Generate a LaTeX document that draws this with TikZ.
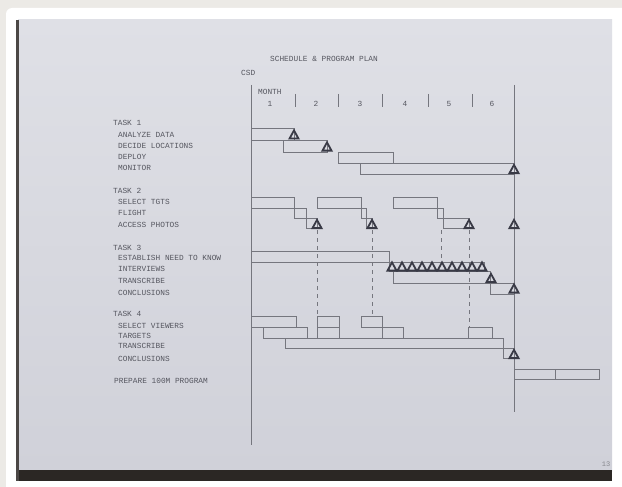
\documentclass[tikz,border=0pt]{standalone}
\usepackage{fontspec}
\setmonofont{Liberation Mono}
\definecolor{bgc}{HTML}{ECEAE6}
\definecolor{paperA}{HTML}{DFE0E6}
\definecolor{paperB}{HTML}{D0D1D9}
\definecolor{linec}{HTML}{75767E}
\definecolor{textc}{HTML}{55565F}
\definecolor{tric}{HTML}{393A46}
\definecolor{darkc}{HTML}{2B2724}
\begin{document}
\begin{tikzpicture}[x=1pt,y=-1pt,
  bar/.style={draw=linec, line width=0.6pt},
  axisline/.style={draw=linec, line width=0.7pt},
  tickline/.style={draw=linec, line width=0.6pt},
  guide/.style={draw=linec, line width=0.6pt, dash pattern=on 4pt off 4pt},
  lbl/.style={font=\ttfamily\fontsize{7.8}{8}\selectfont, text=textc, inner sep=0pt, anchor=mid west},
  num/.style={font=\ttfamily\fontsize{7.8}{8}\selectfont, text=textc, inner sep=0pt, anchor=mid},
  mile/.pic={\draw[draw=tric, line width=1.8pt, line join=miter] (-4.5,4.1) -- (0,-4.1) -- (4.5,4.1) -- cycle;}
]
\useasboundingbox (0,0) rectangle (622,487);
\clip (0,0) rectangle (622,487);
% backdrop and photographed sheet
\fill[bgc] (0,0) rectangle (622,487);
\fill[white, rounded corners=6pt] (6,8) rectangle (630,495);
\shade[top color=paperA, bottom color=paperB] (18,20) rectangle (612,471);
\fill[darkc] (16,470) rectangle (612,481);
\fill[darkc!85] (16,20) rectangle (19,481);

% title
\node[lbl] (title) at (270,59) {SCHEDULE \& PROGRAM PLAN};
\node[lbl] (csd) at (241,73) {CSD};
\node[lbl] (month) at (258,92) {MONTH};

% axes
\coordinate (la) at (251,85); \coordinate (lb) at (251,445);
\coordinate (ra) at (514,85); \coordinate (rb) at (514,412);
\draw[axisline] (la) -- (lb);
\draw[axisline] (ra) -- (rb);
\foreach \x [count=\i] in {295,338,382,428,472}{
  \coordinate (tk\i a) at (\x,94); \coordinate (tk\i b) at (\x,107);
  \draw[tickline] (tk\i a) -- (tk\i b);
}
\foreach \x [count=\i] in {270,316,360,405,449,492}{
  \node[num] (m\i) at (\x,104) {\i};
}

% labels
\node[lbl] (task1) at (113,123) {TASK 1};
\node[lbl] (a1) at (118,135) {ANALYZE DATA};
\node[lbl] (a2) at (118,146) {DECIDE LOCATIONS};
\node[lbl] (a3) at (118,157) {DEPLOY};
\node[lbl] (a4) at (118,168) {MONITOR};
\node[lbl] (task2) at (113,191) {TASK 2};
\node[lbl] (b1) at (118,202) {SELECT TGTS};
\node[lbl] (b2) at (118,213) {FLIGHT};
\node[lbl] (b3) at (118,225) {ACCESS PHOTOS};
\node[lbl] (task3) at (113,248) {TASK 3};
\node[lbl] (c1) at (118,258) {ESTABLISH NEED TO KNOW};
\node[lbl] (c2) at (118,269) {INTERVIEWS};
\node[lbl] (c3) at (118,281) {TRANSCRIBE};
\node[lbl] (c4) at (118,293) {CONCLUSIONS};
\node[lbl] (task4) at (113,314) {TASK 4};
\node[lbl] (d1) at (118,326) {SELECT VIEWERS};
\node[lbl] (d2) at (118,336) {TARGETS};
\node[lbl] (d3) at (118,346) {TRANSCRIBE};
\node[lbl] (d4) at (118,359) {CONCLUSIONS};
\node[lbl] (prep) at (114,381) {PREPARE 100M PROGRAM};
\node[font=\ttfamily\fontsize{7}{8}\selectfont, text=textc!70, inner sep=0pt] (pg) at (606,464) {13};

% dashed guides
\draw[guide] (317,230) -- (317,316);
\draw[guide] (372,230) -- (372,316);
\draw[guide] (441,230) -- (441,262);
\draw[guide] (469,230) -- (469,327);

% task 1 bars
\draw[bar] (251,128) rectangle (294,140);
\draw[bar] (283,140) rectangle (327,152);
\draw[bar] (338,152) rectangle (393,163);
\draw[bar] (360,163) rectangle (514,174);
% task 2 bars
\draw[bar] (251,197) rectangle (294,208);
\draw[bar] (294,208) rectangle (306,218);
\draw[bar] (306,218) rectangle (317,228);
\draw[bar] (317,197) rectangle (361,208);
\draw[bar] (361,208) rectangle (366,218);
\draw[bar] (366,218) rectangle (372,228);
\draw[bar] (393,197) rectangle (437,208);
\draw[bar] (437,208) rectangle (443,218);
\draw[bar] (443,218) rectangle (469,228);
% task 3 bars
\draw[bar] (251,251) rectangle (389,262);
\draw[bar] (389,262) rectangle (484,271);
\draw[bar] (393,271) rectangle (490,283);
\draw[bar] (490,283) rectangle (514,294);
% task 4 bars
\draw[bar] (251,316) rectangle (296,327);
\draw[bar] (317,316) rectangle (339,327);
\draw[bar] (361,316) rectangle (382,327);
\draw[bar] (263,327) rectangle (307,338);
\draw[bar] (317,327) rectangle (339,338);
\draw[bar] (382,327) rectangle (403,338);
\draw[bar] (468,327) rectangle (492,338);
\draw[bar] (285,338) rectangle (503,348);
\draw[bar] (503,348) rectangle (514,358);
% program
\draw[bar] (514,369) rectangle (555,379);
\draw[bar] (555,369) rectangle (599,379);

% milestones
\pic at (294,134.5) {mile};
\pic at (327,146.5) {mile};
\pic at (514,169) {mile};
\pic at (317,224) {mile};
\pic at (372,224) {mile};
\pic at (469,224) {mile};
\pic at (514,224) {mile};
\foreach \k in {0,...,9}{ \pic at (392+10*\k,266.5) {mile}; }
\pic at (491,278) {mile};
\pic at (514,288.5) {mile};
\pic at (514,354) {mile};
\end{tikzpicture}
\end{document}
